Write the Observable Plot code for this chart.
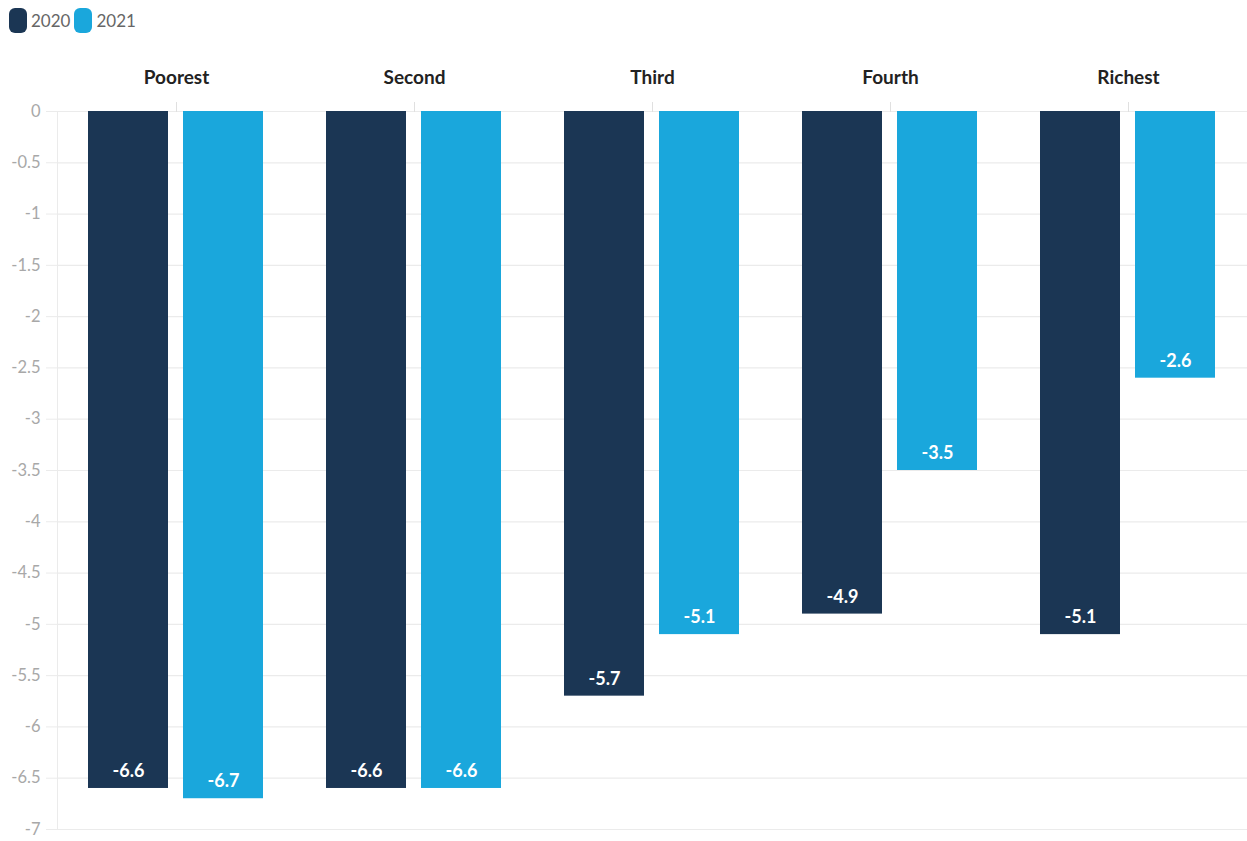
<!DOCTYPE html>
<html><head><meta charset="utf-8">
<script src="https://cdn.jsdelivr.net/npm/d3@7"></script>
<script src="https://cdn.jsdelivr.net/npm/@observablehq/plot@0.6"></script>
<style>
body{margin:0;background:#fff;font-family:Lato,"Open Sans",sans-serif;}
#legend{height:40px;display:flex;align-items:center;padding-left:9px;box-sizing:border-box;}
.item{display:flex;align-items:center;margin-right:4px;}
.sw{width:18px;height:25px;border-radius:6px;margin-right:4px;}
.lab{font-size:17px;color:#666;}
#chart svg{display:block;}
</style></head><body>
<div id="legend"></div><div id="chart"></div>
<script>
const groups = ["Poorest", "Second", "Third", "Fourth", "Richest"];
const years = ["2020", "2021"];
const values2020 = [-6.6, -6.6, -5.7, -4.9, -5.1];
const values2021 = [-6.7, -6.6, -5.1, -3.5, -2.6];
const yTicks = [0, -0.5, -1, -1.5, -2, -2.5, -3, -3.5, -4, -4.5, -5, -5.5, -6, -6.5, -7];
const colors = ["#1b3654", "#1aa7dc"];

const data = [];
groups.forEach((g, i) => {
  data.push({group: g, year: years[0], value: values2020[i]});
  data.push({group: g, year: years[1], value: values2021[i]});
});

const legend = document.getElementById("legend");
years.forEach((y, i) => {
  const it = document.createElement("div"); it.className = "item";
  const sw = document.createElement("div"); sw.className = "sw"; sw.style.background = colors[i];
  const lb = document.createElement("span"); lb.className = "lab"; lb.textContent = y;
  it.appendChild(sw); it.appendChild(lb); legend.appendChild(it);
});

const chart = Plot.plot({
  width: 1247,
  height: 801,
  marginLeft: 56,
  marginRight: 0,
  marginTop: 71,
  marginBottom: 12,
  style: {fontFamily: "Lato, 'Open Sans', sans-serif", background: "#fff"},
  fx: {domain: groups, padding: 0, label: null},
  x: {domain: years, paddingInner: 0.156, paddingOuter: 0.32, axis: null},
  y: {domain: [-7, 0], axis: null},
  color: {domain: years, range: colors},
  marks: [
    Plot.ruleY(yTicks, {stroke: "#ebebeb", strokeWidth: 1.2}),
    Plot.frame({anchor: "left", stroke: "#ebebeb", facetAnchor: "left"}),
    Plot.axisY({ticks: yTicks, tickFormat: d => String(d), tickSize: 11, tickPadding: 6,
      stroke: "#ebebeb", fill: "#a8a8a8", fontSize: 16.5, label: null}),
    Plot.axisFx({anchor: "top", tickSize: 10, tickPadding: 18, stroke: "#e0e0e0",
      fill: "#222", fontSize: 19, fontWeight: "bold", label: null}),
    Plot.barY(data, {fx: "group", x: "year", y: "value", fill: "year"}),
    Plot.text(data, {fx: "group", x: "year", y: "value", text: d => String(d.value),
      dy: -17, fill: "#fff", fontSize: 18, fontWeight: "bold"})
  ]
});
document.getElementById("chart").appendChild(chart);
</script>
</body></html>
